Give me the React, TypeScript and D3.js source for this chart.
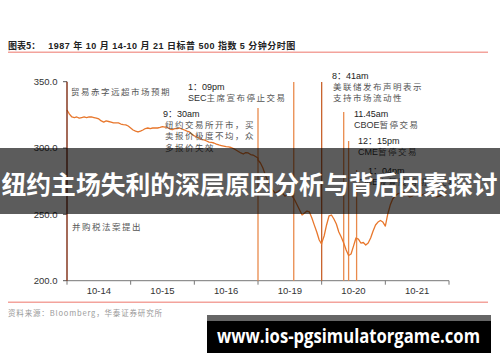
import React from "react";
import * as d3 from "d3";

// S&P 500, 15-minute closes per session (9:30 → 16:00)
const sessions = ["10-14", "10-15", "10-16", "10-19", "10-20", "10-21"];
const SLOTS = 26;

const oct14 = [328.7, 325.6, 323.4, 323.0, 323.4, 322.6, 323.0, 323.4, 323.0, 323.4, 323.4, 323.0, 322.6, 321.9, 320.4, 319.6, 320.4, 320.0, 319.6, 318.9, 318.9, 318.9, 318.1, 317.7, 317.4, 316.6, 315.1];
const oct15 = [315.1, 313.6, 312.8, 312.1, 312.8, 313.6, 314.7, 315.1, 314.7, 315.1, 315.1, 315.1, 315.5, 316.2, 315.8, 315.5, 314.3, 313.9, 314.7, 314.7, 315.1, 314.3, 313.6, 312.8, 312.1, 310.6, 309.1];
const oct16 = [309.1, 308.3, 307.6, 306.4, 306.1, 305.3, 304.5, 304.2, 303.8, 303.0, 302.3, 301.9, 301.5, 301.1, 300.8, 300.4, 299.6, 298.5, 297.4, 296.3, 295.5, 296.6, 296.3, 295.1, 294.7, 293.6, 292.5];
const oct19 = [291.0, 288.7, 285.0, 279.7, 275.2, 271.4, 268.3, 266.1, 266.9, 268.3, 266.1, 263.8, 264.6, 266.1, 263.8, 260.8, 257.0, 253.3, 249.5, 251.0, 252.5, 251.8, 247.2, 241.9, 236.7, 230.7, 227.6];
const oct20 = [228.4, 233.7, 242.0, 248.8, 249.5, 246.5, 242.7, 236.7, 232.9, 228.4, 223.1, 219.0, 220.1, 226.1, 232.2, 231.4, 228.4, 228.8, 226.9, 228.4, 232.2, 237.5, 242.0, 244.2, 245.4, 244.2, 241.2];
const oct21 = [241.2, 250.3, 257.0, 261.6, 263.8, 265.4, 266.1, 266.9, 266.1, 264.6, 263.1, 263.8, 265.4, 264.6, 263.8, 264.6, 265.4, 266.1, 266.5, 265.4, 263.8, 263.1, 263.8, 264.6, 265.4, 266.1];

const yTicks = [200, 250, 300, 350];

// Event markers: session index, clock time, and the price level the marker rises to
const eventSession = [3, 3, 4, 4, 4, 4];
const eventTime = ["9:30", "13:09", "8:41", "11:45", "12:15", "13:04"];
const eventTop = [330.2, 349.8, 349.8, 327.2, 305.3, 283.4];

const titleLabel = "图表5：";
const titleText = "1987 年 10 月 14-10 月 21 日标普 500 指数 5 分钟分时图";
const sourceText = "资料来源：Bloomberg，华泰证券研究所";
const bannerText = "纽约主场失利的深层原因分析与背后因素探讨";
const siteText = "www.ios-pgsimulatorgame.com";

// Annotation blocks: heading (clock time) followed by description lines
const notes = [
  { x: 71, y: 95, head: null, lines: ["贸易赤字远超市场预期"] },
  { x: 188, y: 90, head: "1：09pm", lines: ["SEC主席宣布停止交易"] },
  { x: 163, y: 117, head: "9：30am", lines: ["纽约交易所开市，买", "卖报价极度不均，众", "多报价失效"], dx: 2 },
  { x: 332, y: 78.5, head: "8：41am", lines: ["美联储发布声明表示", "支持市场流动性"], dx: 1 },
  { x: 354, y: 116.5, head: "11.45am", lines: ["CBOE暂停交易"] },
  { x: 358, y: 143.5, head: "12：15pm", lines: ["CME暂停交易"] },
  { x: 368, y: 174, head: "1：04pm", lines: ["CME恢复股指期货交易"], dx: -10 },
  { x: 72, y: 230, head: null, lines: ["并购税法案提出"] },
];

const LATIN = "'Liberation Sans', Arial, 'Noto Sans CJK SC', sans-serif";
const CJK = "'Noto Sans CJK SC', 'Liberation Sans', sans-serif";

function sessionFraction(t: string) {
  const [h, m] = t.split(":").map(Number);
  const f = (h + m / 60 - 9.5) / 6.5;
  return Math.max(0, Math.min(1, f));
}

// split a label into Latin and CJK runs so only the CJK part is letter-spaced
function runs(s: string) {
  const out: { latin: boolean; text: string }[] = [];
  for (const ch of s) {
    const latin = ch.charCodeAt(0) < 128;
    const last = out[out.length - 1];
    if (last && last.latin === latin) last.text += ch;
    else out.push({ latin, text: ch });
  }
  return out;
}

export default function App() {
  const x = d3.scaleLinear().domain([0, sessions.length]).range([67, 449]);
  const y = d3.scaleLinear().domain([200, 350]).range([280.7, 81.7]);

  const series = [oct14, oct15, oct16, oct19, oct20, oct21];
  const pts: [number, number][] = series.flatMap((vals, d) =>
    vals.map((v, k) => [d + k / SLOTS, v] as [number, number])
  );
  const linePath = d3
    .line<[number, number]>()
    .x((p) => x(p[0]))
    .y((p) => y(p[1]))(pts) as string;

  const events = eventSession.map((s, i) => ({
    t: s + sessionFraction(eventTime[i]),
    top: eventTop[i],
  }));

  const dayTicks = d3.range(sessions.length + 1);

  return (
    <div style={{ position: "fixed", left: 0, top: 0, width: 500, height: 362, background: "#fff" }}>
      <svg width={500} height={362} viewBox="0 0 500 362" style={{ display: "block" }}>
        <rect x={0} y={0} width={500} height={362} fill="#fff" />

        {/* title */}
        <text x={8} y={48.5} fontFamily={CJK} fontWeight={700} fontSize={9} fill="#222">
          {titleLabel}
        </text>
        <text x={48.3} y={48.5} fontFamily={LATIN} fontWeight={700} fontSize={9} fill="#222" textLength={247} lengthAdjust="spacing">
          {titleText}
        </text>
        <line x1={8} x2={488} y1={52.3} y2={52.3} stroke="#F3A39C" strokeWidth={1.4} />

        {/* y axis */}
        {yTicks.map((v) => (
          <g key={v}>
            <line x1={63} x2={67} y1={y(v)} y2={y(v)} stroke="#555" strokeWidth={1} />
            <text x={57.5} y={y(v) + 3.4} textAnchor="end" fontFamily={LATIN} fontSize={9.5} fill="#333">
              {v.toFixed(1)}
            </text>
          </g>
        ))}

        {/* x axis */}
        <line x1={x(0)} x2={x(sessions.length)} y1={y(200)} y2={y(200)} stroke="#777" strokeWidth={1} />
        {dayTicks.map((d) => (
          <line key={d} x1={x(d)} x2={x(d)} y1={y(200)} y2={y(200) + 4} stroke="#777" strokeWidth={1} />
        ))}
        {sessions.map((s, i) => (
          <text key={s} x={x(i + 0.5)} y={294} textAnchor="middle" fontFamily={LATIN} fontSize={9.5} fill="#333">
            {s}
          </text>
        ))}

        {/* event markers */}
        {events.map((e, i) => (
          <line
            key={i}
            x1={x(e.t)}
            x2={x(e.t)}
            y1={y(e.top)}
            y2={y(200)}
            stroke={i === 2 ? "#C9632C" : "#E98A4C"}
            strokeWidth={1.3}
          />
        ))}

        {/* price line */}
        <path d={linePath} fill="none" stroke="#E8772C" strokeWidth={1.3} strokeLinejoin="round" />

        {/* opening marker on the axis */}
        <line x1={x(0)} x2={x(0)} y1={y(350)} y2={y(200)} stroke="#7E2C12" strokeWidth={1.4} />

        {/* annotations */}
        {notes.map((n, i) => (
          <g key={i}>
            {n.head && (
              <text x={n.x} y={n.y} fontFamily={LATIN} fontSize={9} fill="#222">
                {n.head}
              </text>
            )}
            {n.lines.map((l, j) => (
              <text
                key={j}
                x={n.x + (n.head ? n.dx ?? 0 : 0)}
                y={n.y + (n.head ? (j + 1) * 11.2 : j * 11.2)}
                fontSize={8.5}
                fill="#555"
              >
                {runs(l).map((r, k) =>
                  r.latin ? (
                    <tspan key={k} fontFamily={LATIN} fontSize={9} fill="#333">
                      {r.text}
                    </tspan>
                  ) : (
                    <tspan key={k} fontFamily={CJK} letterSpacing={1.5}>
                      {r.text}
                    </tspan>
                  )
                )}
              </text>
            ))}
          </g>
        ))}

        {/* source */}
        <line x1={8} x2={488} y1={302.3} y2={302.3} stroke="#F3A39C" strokeWidth={1.4} />
        <text x={8} y={315.5} fontFamily={CJK} fontSize={7.5} fill="#999" textLength={154} lengthAdjust="spacing">
          {sourceText}
        </text>

        {/* banner */}
        <rect x={0} y={148} width={500} height={66} fill="rgba(0,0,0,0.64)" />
        <text x={1.5} y={193.5} fontFamily={CJK} fontWeight={700} fontSize={25} fill="#fff" textLength={496} lengthAdjust="spacingAndGlyphs">
          {bannerText}
        </text>

        {/* site tag */}
        <rect x={207} y={315} width={284} height={6} fill="#666" />
        <rect x={207} y={321} width={284} height={32} fill="#000" />
        <text x={217} y={343} fontFamily="'Open Sans', 'DejaVu Sans', sans-serif" fontWeight={700} fontSize={19} fill="#fff" textLength={263} lengthAdjust="spacingAndGlyphs">
          {siteText}
        </text>
      </svg>
    </div>
  );
}
